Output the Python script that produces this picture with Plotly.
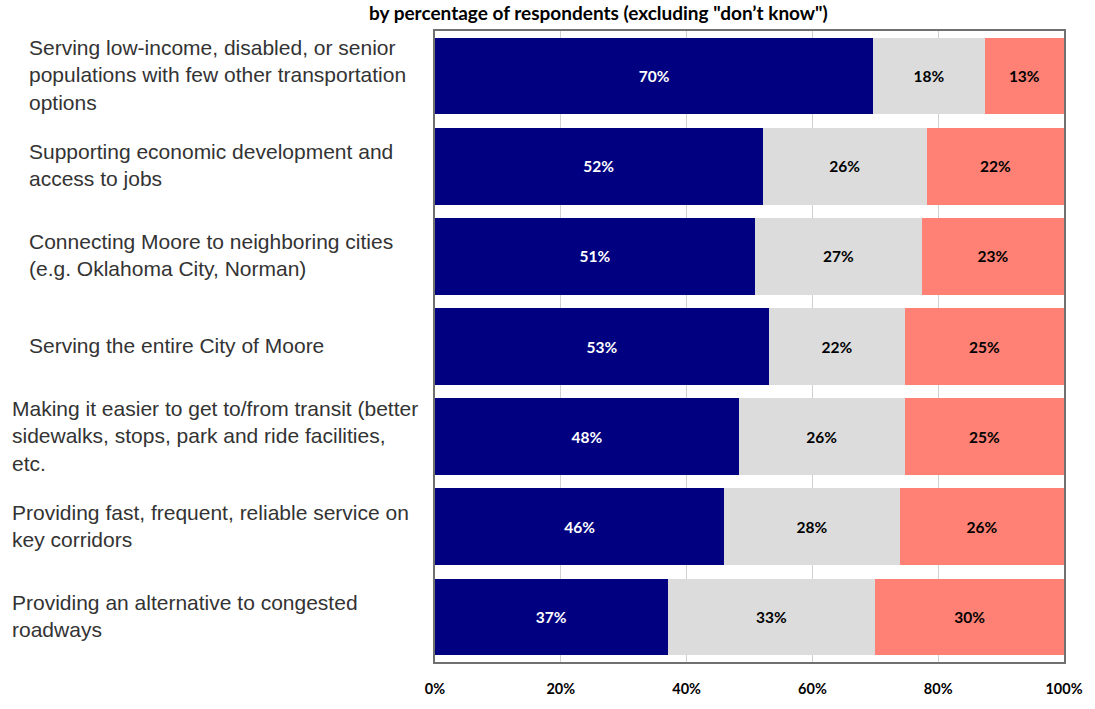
import plotly.graph_objects as go

categories = [
    "Serving low-income, disabled, or senior<br>populations with few other transportation<br>options",
    "Supporting economic development and<br>access to jobs",
    "Connecting Moore to neighboring cities<br>(e.g. Oklahoma City, Norman)",
    "Serving the entire City of Moore",
    "Making it easier to get to/from transit (better<br>sidewalks, stops, park and ride facilities,<br>etc.",
    "Providing fast, frequent, reliable service on<br>key corridors",
    "Providing an alternative to congested<br>roadways",
]
label_x = [24, 24, 24, 24, 7, 7, 7]

s1_values = [69.7, 52.1, 50.9, 53.1, 48.3, 46.0, 37.0]
s2_values = [17.7, 26.1, 26.5, 21.6, 26.4, 27.9, 33.0]
s3_values = [12.6, 21.8, 22.6, 25.3, 25.3, 26.1, 30.0]
s1_labels = ["70%", "52%", "51%", "53%", "48%", "46%", "37%"]
s2_labels = ["18%", "26%", "27%", "22%", "26%", "28%", "33%"]
s3_labels = ["13%", "22%", "23%", "25%", "25%", "26%", "30%"]

tick_vals = [0, 20, 40, 60, 80, 100]
tick_text = ["0%", "20%", "40%", "60%", "80%", "100%"]

title_text = 'by percentage of respondents (excluding "don’t know")'

keys = list(range(len(categories)))
bold_font = "Lato, Open Sans, sans-serif"

fig = go.Figure()
for vals, labs, color, tcol in [
    (s1_values, s1_labels, "#000080", "white"),
    (s2_values, s2_labels, "#DCDCDC", "black"),
    (s3_values, s3_labels, "#FF8074", "black"),
]:
    fig.add_trace(go.Bar(
        y=keys, x=vals, orientation="h", marker=dict(color=color, line=dict(width=0)),
        text=["<b>" + t + "</b>" for t in labs], textposition="inside", insidetextanchor="middle",
        textfont=dict(color=tcol, family=bold_font, size=15.5), textangle=0,
        hoverinfo="skip", showlegend=False,
    ))

W, H = 1095, 709
ml, mr, mt, mb = 435, 26, 31, 34
pw = W - ml - mr

annotations = []
for i, (c, lx) in enumerate(zip(categories, label_x)):
    annotations.append(dict(
        text=c, x=(lx - ml) / pw, xref="paper", y=i, yref="y", yshift=1,
        xanchor="left", yanchor="middle", align="left", showarrow=False,
        font=dict(family="Liberation Sans, Arial, sans-serif", size=21, color="#333333"),
    ))
annotations.append(dict(
    text="<b>" + title_text + "</b>", x=(600 - ml) / pw, xref="paper",
    y=1, yref="paper", yshift=19, xanchor="center", yanchor="middle",
    showarrow=False, font=dict(family=bold_font, size=19, color="black"),
))

fig.update_layout(
    width=W, height=H, barmode="stack", bargap=0.15,
    margin=dict(l=ml, r=mr, t=mt, b=mb),
    paper_bgcolor="white", plot_bgcolor="white",
    annotations=annotations,
    uniformtext=dict(mode=False),
)
fig.update_xaxes(
    range=[0, 100], tickvals=tick_vals, ticktext=["<b>" + t + "</b>" for t in tick_text],
    tickfont=dict(family=bold_font, size=14.5, color="black"),
    showgrid=True, gridcolor="#D0D0D0", gridwidth=1, zeroline=False,
    showline=True, linecolor="#707070", linewidth=1.5, mirror=True,
    ticks="", ticklabelstandoff=13, fixedrange=True,
)
fig.update_yaxes(
    range=[6.5, -0.5], showticklabels=False, showgrid=False, zeroline=False,
    showline=True, linecolor="#707070", linewidth=1.5, mirror=True, ticks="",
)

fig.write_html("out.html")
